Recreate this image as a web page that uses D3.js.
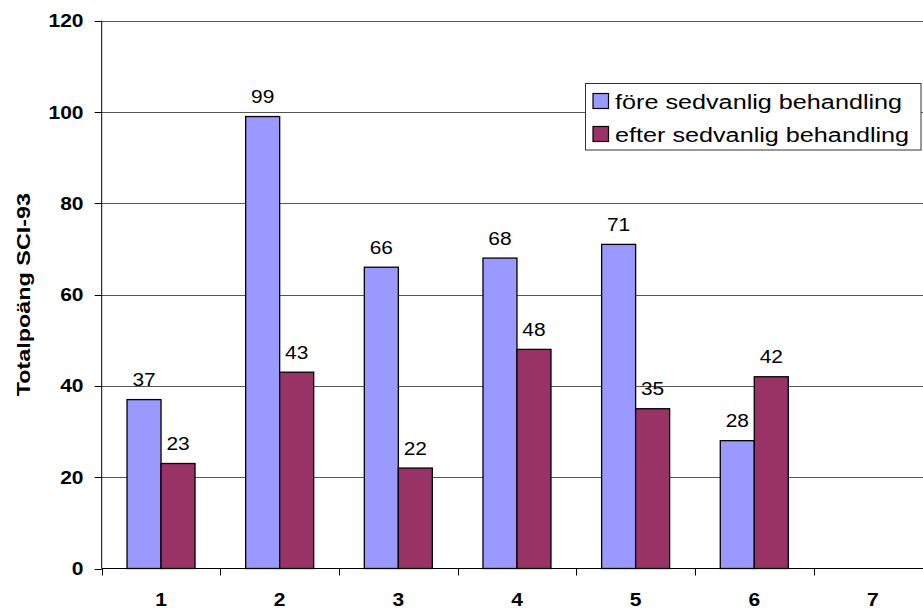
<!DOCTYPE html>
<html><head><meta charset="utf-8">
<script src="https://cdn.jsdelivr.net/npm/d3@7"></script>
<style>body{margin:0;background:#fff}svg{display:block}text{font-family:"Liberation Sans",Arial,sans-serif;fill:#000}</style>
</head><body><svg id="c" width="923" height="608"></svg>
<script>
const categories = ["1","2","3","4","5","6","7"];
const seriesNames = ["före sedvanlig behandling","efter sedvanlig behandling"];
const fore = [37, 99, 66, 68, 71, 28, null];
const efter = [23, 43, 22, 48, 35, 42, null];
const yTicks = [0, 20, 40, 60, 80, 100, 120];
const yTitle = "Totalpoäng SCI-93";
const colors = ["#9999FF", "#993366"];

const svg = d3.select("#c");
const pLeft = 101.7, pTop = 20.7, pBottom = 568.5, catW = 118.65, barW = 34;
const x = d3.scaleBand().domain(categories).range([pLeft, pLeft + catW * categories.length]).paddingInner(0).paddingOuter(0);
const y = d3.scaleLinear().domain([0, 120]).range([pBottom, pTop]);
const inner = d3.scaleBand().domain([0, 1]).range([(x.bandwidth() - 2 * barW) / 2, (x.bandwidth() + 2 * barW) / 2]).padding(0);

function stext(g, xx, yy, str, opts) {
  return g.append("text").attr("transform", `translate(${xx},${yy}) ${opts.rot ? "rotate(-90)" : ""} scale(${opts.sx},1)`)
    .attr("text-anchor", opts.anchor || "middle")
    .attr("font-size", opts.size).attr("font-weight", opts.bold ? "bold" : "normal")
    .attr("dy", opts.dy || 0).text(str);
}

// gridlines
svg.append("g").selectAll("line").data(yTicks.filter(d => d > 0)).join("line")
  .attr("x1", pLeft).attr("x2", 923).attr("y1", d => Math.round(y(d)) + 0.5).attr("y2", d => Math.round(y(d)) + 0.5)
  .attr("stroke", "#555").attr("stroke-width", 1);

// bars
const data = [fore, efter];
const gb = svg.append("g");
data.forEach((vals, si) => {
  vals.forEach((v, i) => {
    if (v == null) return;
    const bx = x(categories[i]) + inner(si);
    gb.append("rect").attr("x", bx).attr("y", y(v)).attr("width", inner.bandwidth()).attr("height", y(0) - y(v))
      .attr("fill", colors[si]).attr("stroke", "#000").attr("stroke-width", 1.3);
    stext(gb, bx + inner.bandwidth() / 2, y(v) - 13.5, String(v), {size: 19, sx: 1.1});
  });
});

// axes
const ax = svg.append("g");
ax.append("line").attr("x1", pLeft).attr("x2", pLeft).attr("y1", pTop).attr("y2", pBottom).attr("stroke", "#000");
ax.append("line").attr("x1", pLeft).attr("x2", 923).attr("y1", pBottom).attr("y2", pBottom).attr("stroke", "#000");
yTicks.forEach(t => {
  ax.append("line").attr("x1", pLeft - 7).attr("x2", pLeft).attr("y1", Math.round(y(t)) + 0.5).attr("y2", Math.round(y(t)) + 0.5).attr("stroke", "#000");
  stext(ax, 83.5, y(t), String(t), {size: 18.6, sx: 1.13, bold: true, anchor: "end", dy: "0.35em"});
});
d3.range(categories.length + 1).forEach(i => {
  const tx = Math.round(pLeft + i * catW) + 0.5;
  ax.append("line").attr("x1", tx).attr("x2", tx).attr("y1", pBottom).attr("y2", pBottom + 7).attr("stroke", "#000");
});
categories.forEach(c => {
  stext(ax, x(c) + x.bandwidth() / 2, 605.5, c, {size: 18.6, sx: 1.13, bold: true});
});
stext(ax, 30, (pTop + pBottom) / 2, yTitle, {size: 19, sx: 1.23, bold: true, rot: true});

// legend
const lg = svg.append("g");
lg.append("rect").attr("x", 585.5).attr("y", 83.5).attr("width", 335.5).attr("height", 66.5)
  .attr("fill", "#fff").attr("stroke", "#333").attr("stroke-width", 1);
seriesNames.forEach((n, i) => {
  const yy = 93.5 + i * 33;
  lg.append("rect").attr("x", 593).attr("y", yy).attr("width", 15.5).attr("height", 15).attr("fill", colors[i]).attr("stroke", "#000").attr("stroke-width", 1.2);
  stext(lg, 615, yy + 15, n, {size: 21, sx: 1.2, anchor: "start"});
});
</script></body></html>
